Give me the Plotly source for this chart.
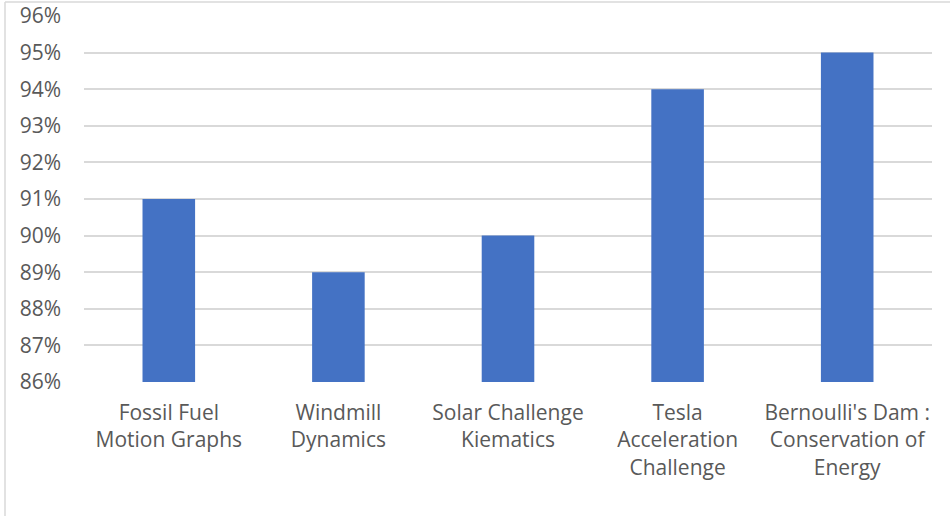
import plotly.graph_objects as go

# Project scores by lab activity
categories = [
    "Fossil Fuel<br>Motion Graphs",
    "Windmill<br>Dynamics",
    "Solar Challenge<br>Kiematics",
    "Tesla<br>Acceleration<br>Challenge",
    "Bernoulli's Dam :<br>Conservation of<br>Energy",
]
scores = [0.91, 0.89, 0.90, 0.94, 0.95]
tick_values = [0.86, 0.87, 0.88, 0.89, 0.90, 0.91, 0.92, 0.93, 0.94, 0.95, 0.96]
tick_labels = ["86%", "87%", "88%", "89%", "90%", "91%", "92%", "93%", "94%", "95%", "96%"]
floor = 0.86

W, H = 950, 516
L, R, T, B = 84, 18, 16, 134
pw, ph = W - L - R, H - T - B

font_family = "'Open Sans', sans-serif"
text_color = "#595959"
grid_color = "#D9D9D9"

fig = go.Figure(
    go.Bar(
        x=categories,
        y=[s - floor for s in scores],
        base=floor,
        marker=dict(color="#4472C4", line=dict(width=0)),
        width=0.31,
    )
)

fig.update_layout(
    width=W,
    height=H,
    margin=dict(l=L, r=R, t=T, b=B, autoexpand=False),
    paper_bgcolor="white",
    plot_bgcolor="white",
    showlegend=False,
    font=dict(family=font_family, color=text_color, size=21),
    shapes=[
        # thin frame around the chart area (top and left edges)
        dict(type="line", xref="paper", yref="paper",
             x0=(5 - L) / pw, x1=(W + 5 - L) / pw,
             y0=1 + (T - 2) / ph, y1=1 + (T - 2) / ph,
             line=dict(color="#D9D9D9", width=1.5)),
        dict(type="line", xref="paper", yref="paper",
             x0=(5 - L) / pw, x1=(5 - L) / pw,
             y0=1 + (T - 2) / ph, y1=-(B + 5) / ph,
             line=dict(color="#D9D9D9", width=1.5)),
    ],
)

fig.update_yaxes(
    range=[0.86, 0.96],
    tickvals=tick_values,
    ticktext=tick_labels,
    showgrid=True,
    gridcolor=grid_color,
    gridwidth=1.5,
    zeroline=False,
    showline=False,
    ticks="",
    automargin=False,
    ticklabelstandoff=22,
    tickfont=dict(size=21, color=text_color),
)
fig.update_xaxes(
    showgrid=False,
    showline=False,
    ticks="",
    automargin=False,
    ticklabelstandoff=16,
    tickfont=dict(size=21, color=text_color),
    tickangle=0,
)

fig.write_html("out.html")
